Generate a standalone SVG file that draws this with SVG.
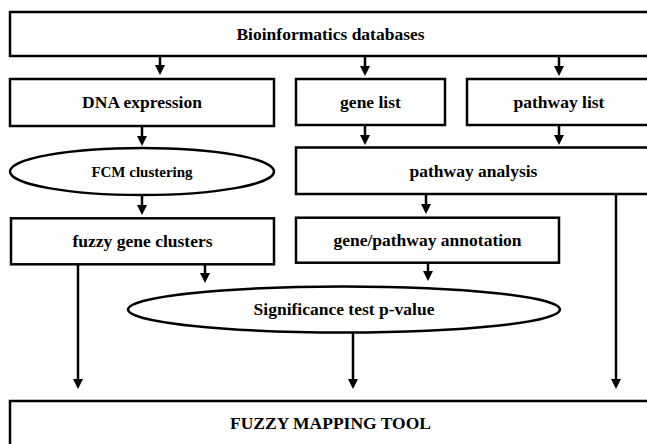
<svg xmlns="http://www.w3.org/2000/svg" width="647" height="444" viewBox="0 0 647 444">
<defs>
<marker id="ah" markerUnits="userSpaceOnUse" markerWidth="10" markerHeight="10" refX="4" refY="5" orient="auto">
<path d="M0,0 L10,5 L0,10 z" fill="#000"/>
</marker>
<style>
.box{fill:#fff;stroke:#000;stroke-width:2.5}
.t{font-family:"Liberation Serif","Times New Roman",serif;font-weight:bold;font-size:17.5px;text-anchor:middle;fill:#000}
.s{font-size:15px}
.c{stroke:#000;stroke-width:2.5;fill:none;marker-end:url(#ah)}
.p{stroke:#000;stroke-width:2.5;fill:none}
</style>
</defs>
<rect width="647" height="444" fill="#fff"/>
<g id="bioinformatics-databases"><rect class="box" x="10" y="12" width="641" height="44"/><text class="t" x="330.5" y="39.8">Bioinformatics databases</text></g>
<g id="dna-expression"><rect class="box" x="10" y="79" width="264" height="47"/><text class="t" x="142" y="108.3">DNA expression</text></g>
<g id="gene-list"><rect class="box" x="296" y="79" width="149" height="46"/><text class="t" x="370.5" y="107.8">gene list</text></g>
<g id="pathway-list"><rect class="box" x="467" y="79" width="184" height="46"/><text class="t" x="559" y="107.8">pathway list</text></g>
<g id="fcm-clustering"><ellipse class="box" cx="142" cy="171.5" rx="132" ry="23.5"/><text class="t s" x="142" y="176.5">FCM clustering</text></g>
<g id="pathway-analysis"><rect class="box" x="296" y="147.5" width="355" height="46.5"/><text class="t" x="473.5" y="176.5">pathway analysis</text></g>
<g id="fuzzy-gene-clusters"><rect class="box" x="11" y="218.3" width="263" height="46"/><text class="t" x="142.5" y="247">fuzzy gene clusters</text></g>
<g id="gene-pathway-annotation"><rect class="box" x="296" y="217.7" width="263" height="45"/><text class="t" x="427.5" y="246">gene/pathway annotation</text></g>
<g id="significance-test"><ellipse class="box" cx="344" cy="309.5" rx="216" ry="23"/><text class="t" x="344" y="315.3">Significance test p-value</text></g>
<g id="fuzzy-mapping-tool"><rect class="box" x="10" y="401" width="641" height="60"/><text class="t" x="330.5" y="428.5">FUZZY MAPPING TOOL</text></g>
<g id="connectors">
<line class="c" x1="160" y1="56" x2="160" y2="69"/>
<line class="c" x1="365" y1="56" x2="365" y2="70"/>
<line class="c" x1="559" y1="56" x2="559" y2="70"/>
<line class="c" x1="142" y1="126" x2="142" y2="140"/>
<line class="c" x1="365" y1="125" x2="365" y2="139"/>
<line class="c" x1="559" y1="125" x2="559" y2="139"/>
<line class="c" x1="142" y1="195" x2="142" y2="209"/>
<line class="c" x1="426" y1="194" x2="426" y2="208"/>
<line class="c" x1="205" y1="264" x2="205" y2="277"/>
<line class="c" x1="428" y1="263" x2="428" y2="275"/>
<line class="c" x1="78" y1="264" x2="78" y2="383"/>
<line class="c" x1="353" y1="332" x2="353" y2="383"/>
<line class="c" x1="616" y1="194" x2="616" y2="383"/>
</g>
</svg>
